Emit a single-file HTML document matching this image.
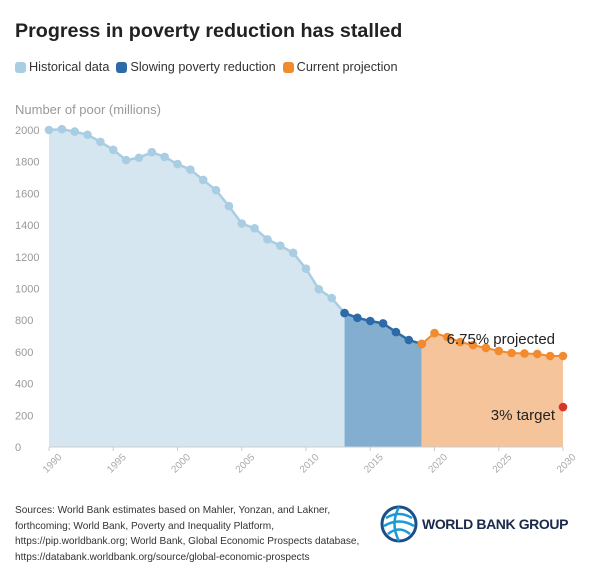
<!DOCTYPE html>
<html><head><meta charset="utf-8"><style>
body{margin:0;width:600px;height:568px;background:#fff;font-family:"Liberation Sans",sans-serif;overflow:hidden;position:relative}
.t{position:absolute;left:15px;top:20px;font-size:19.7px;font-weight:bold;color:#222}
.lg{position:absolute;top:60px;left:15px;font-size:12.7px;color:#333;display:flex;gap:7px}
.lg span{display:inline-flex;align-items:center}
.lg i{display:inline-block;width:11px;height:11px;border-radius:3px;margin-right:3px}
.src{position:absolute;left:15px;top:503px;font-size:10.1px;line-height:15.5px;color:#333}
</style></head><body>
<div class="t">Progress in poverty reduction has stalled</div>
<div class="lg">
<span><i style="background:#a9cde3"></i>Historical data</span>
<span><i style="background:#2e6aa8"></i>Slowing poverty reduction</span>
<span><i style="background:#f28a2e"></i>Current projection</span>
</div>
<svg id="c" width="600" height="500" style="position:absolute;left:0;top:0"></svg>
<div class="src">Sources: World Bank estimates based on Mahler, Yonzan, and Lakner,<br>forthcoming; World Bank, Poverty and Inequality Platform,<br>https://pip.worldbank.org; World Bank, Global Economic Prospects database,<br>https://databank.worldbank.org/source/global-economic-prospects</div>
<div style="position:absolute;left:380px;top:505px;display:flex;align-items:center">
<svg width="38" height="38" viewBox="0 0 38 38"><circle cx="19" cy="19" r="17" fill="none" stroke="#1a4f8a" stroke-width="3"/><path d="M6 13 Q19 5 32 13 M4 21 Q19 12 34 21 M8 29 Q19 20 30 29 M19 2 Q10 19 19 36" fill="none" stroke="#1a9ad6" stroke-width="2.5"/></svg>
<span style="font-size:14px;font-weight:bold;color:#1a2a4a;margin-left:4px;letter-spacing:-0.4px">WORLD BANK GROUP</span></div>
<script>
const histYears=[1990,1991,1992,1993,1994,1995,1996,1997,1998,1999,2000,2001,2002,2003,2004,2005,2006,2007,2008,2009,2010,2011,2012,2013];
const histValues=[2000,2005,1990,1970,1925,1875,1810,1825,1860,1830,1785,1750,1685,1620,1520,1410,1380,1310,1270,1225,1125,995,940,845];
const slowYears=[2013,2014,2015,2016,2017,2018,2019];
const slowValues=[845,815,795,780,725,675,650];
const projYears=[2019,2020,2021,2022,2023,2024,2025,2026,2027,2028,2029,2030];
const projValues=[650,719,694,662,643,625,606,593,590,587,574,574];
const targetYear=2030, targetValue=252;
const yTicks=[0,200,400,600,800,1000,1200,1400,1600,1800,2000];
const xTicks=[1990,1995,2000,2005,2010,2015,2020,2025,2030];
const X=y=>49+(y-1990)*(563-49)/40;
const Y=v=>447-v*(447-130)/2000;
const svg=document.getElementById('c');const NS='http://www.w3.org/2000/svg';
function el(t,a,p){const e=document.createElementNS(NS,t);for(const k in a)e.setAttribute(k,a[k]);(p||svg).appendChild(e);return e;}
let t=el('text',{x:15,y:114,'font-size':13,fill:'#999'});t.textContent='Number of poor (millions)';


yTicks.forEach(v=>{const l=el('text',{x:15,y:Y(v)+4,'font-size':11,fill:'#999'});l.textContent=v;

});
function area(ys,vs,fill,name){let d='M'+X(ys[0])+','+Y(0);ys.forEach((y,i)=>d+='L'+X(y)+','+Y(vs[i]));d+='L'+X(ys[ys.length-1])+','+Y(0)+'Z';
const a=el('path',{d:d,fill:fill});

}
area(histYears,histValues,'#d5e6f1','historical-area');
area(slowYears,slowValues,'#84aed0','slowing-area');
area(projYears,projValues,'#f5c49b','projection-area');
el('line',{x1:X(1990),y1:Y(0),x2:X(2030),y2:Y(0),stroke:'#ccc'});
xTicks.forEach(y=>{el('line',{x1:X(y),y1:Y(0),x2:X(y),y2:Y(0)+4,stroke:'#ccc'});
const l=el('text',{x:X(y)+2,y:Y(0)+20,'font-size':10,fill:'#aaa','text-anchor':'middle',transform:`rotate(-45 ${X(y)+2} ${Y(0)+15})`});l.textContent=y;

});
function line(ys,vs,c,name,w){const pts=ys.map((y,i)=>X(y)+','+Y(vs[i])).join(' ');
const p=el('polyline',{points:pts,fill:'none',stroke:c,'stroke-width':w});


ys.forEach((y,i)=>{const c2=el('circle',{cx:X(y),cy:Y(vs[i]),r:4.3,fill:c});

});}
line(histYears,histValues,'#a9cde3','historical',2.5);
line(slowYears,slowValues,'#2e6aa8','slowing',2.5);
line(projYears,projValues,'#f28a2e','projection',2);
const tg=el('circle',{cx:X(targetYear),cy:Y(targetValue),r:4.3,fill:'#d8342b'});


let a1=el('text',{x:555,y:344,'font-size':15,fill:'#222','text-anchor':'end'});a1.textContent='6.75% projected';


let a2=el('text',{x:555,y:420,'font-size':15,fill:'#222','text-anchor':'end'});a2.textContent='3% target';


</script>
</body></html>
